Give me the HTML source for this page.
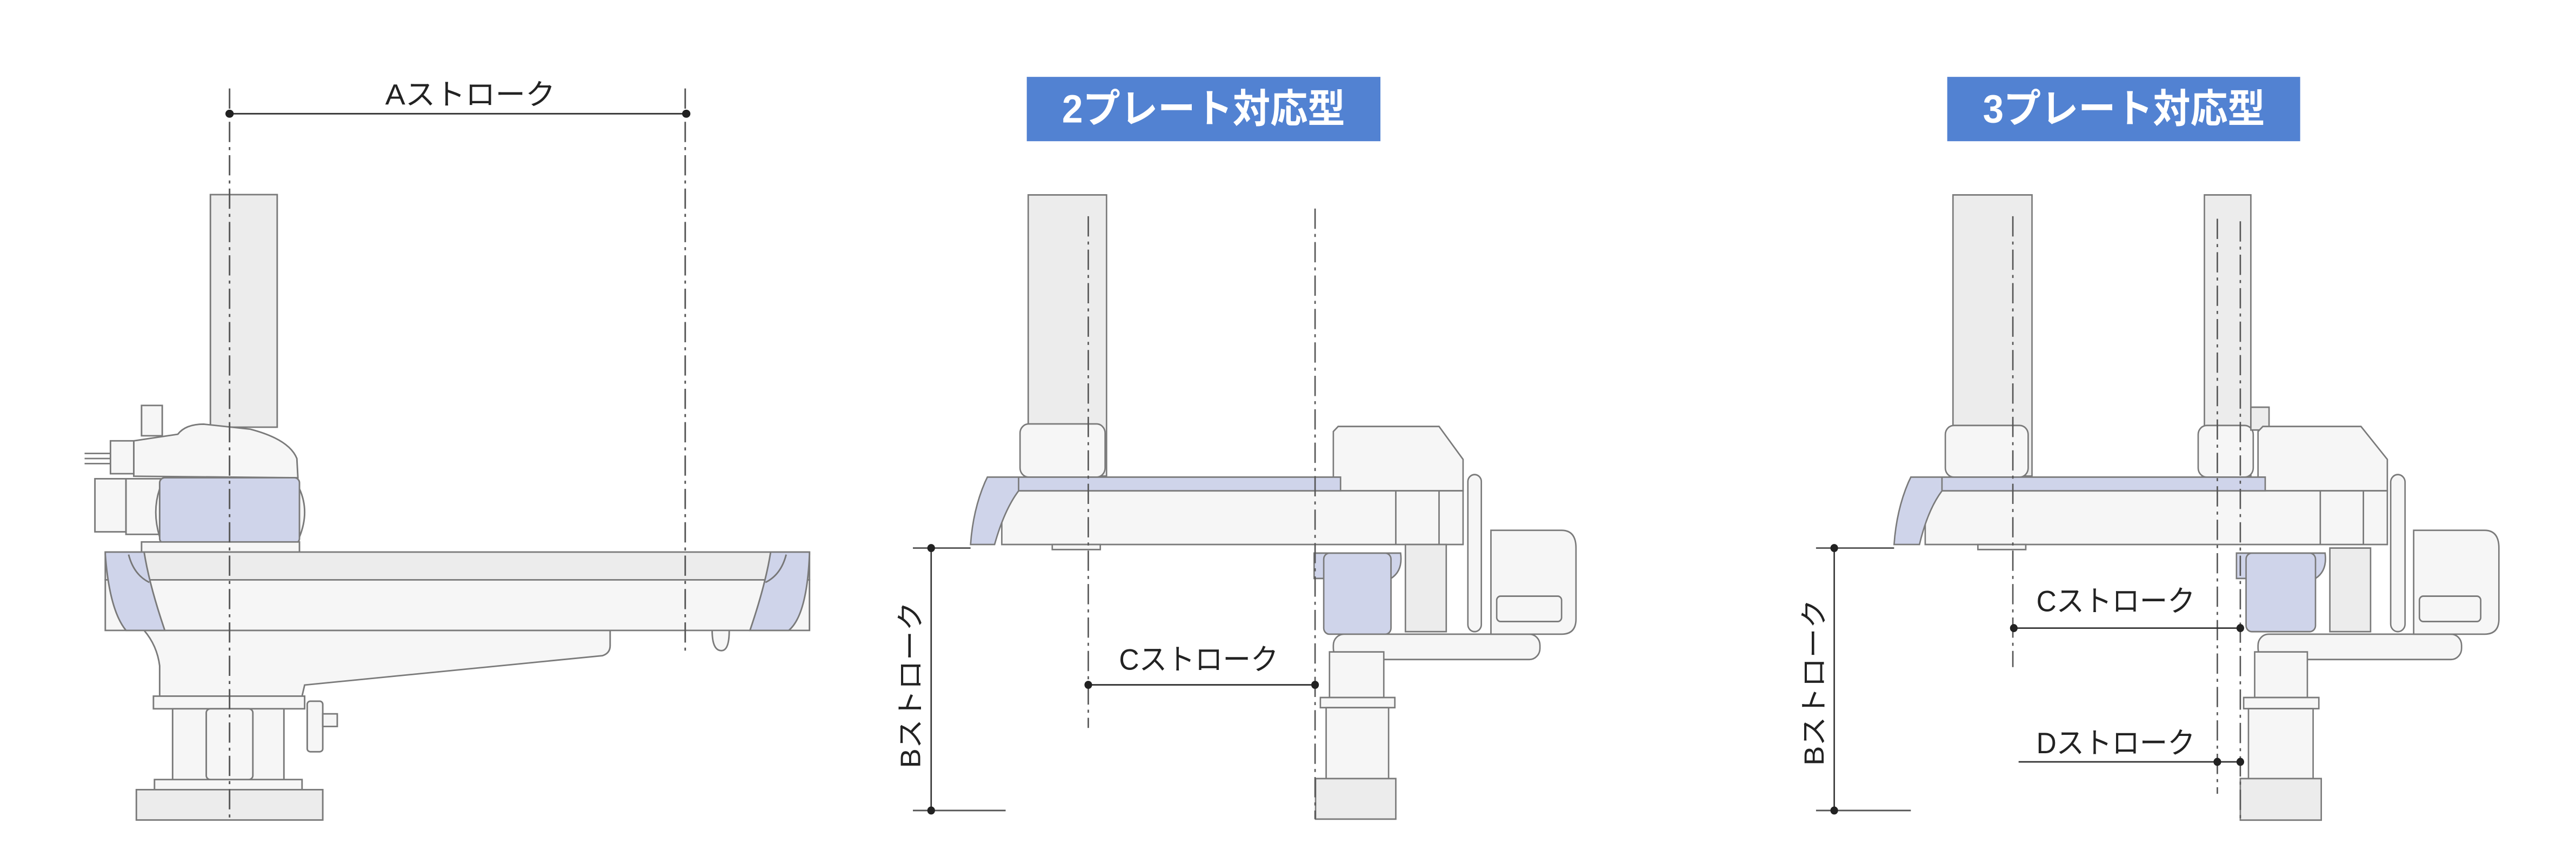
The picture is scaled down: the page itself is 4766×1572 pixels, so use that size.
<!DOCTYPE html>
<html><head><meta charset="utf-8"><style>
html,body{margin:0;padding:0;background:#fff;width:4766px;height:1572px;overflow:hidden}
svg{display:block}
text{font-family:"Liberation Sans","Noto Sans CJK JP",sans-serif}
</style></head><body>
<svg width="4766" height="1572" viewBox="0 0 4766 1572" xmlns="http://www.w3.org/2000/svg">
<defs>
<style>
.o{stroke:#7a7a7a;stroke-width:3;fill:#f6f6f6}
.g{stroke:#7a7a7a;stroke-width:3;fill:#ececec}
.b{stroke:#7a7a7a;stroke-width:3;fill:#cfd4ea}
.d{stroke:#333;stroke-width:3;fill:none}
.c{stroke:#555;stroke-width:3;fill:none;stroke-dasharray:40 10 6 10}
.t{font-size:58px;fill:#222}
.h{font-size:78px;fill:#fff;font-weight:bold}
</style>
</defs>

<!-- Panel 1 -->
<g transform="translate(99,100) scale(0.958,0.935)">
<rect class="g" x="303" y="278" width="129" height="460"/>
<rect class="o" x="170" y="695" width="40" height="60"/>
<path class="o" d="M155,835 L155,765 L240,752 Q255,732 290,732 L380,742 Q455,762 470,800 L472,838 Z"/>
<rect class="o" x="110" y="765" width="45" height="65"/>
<rect class="o" x="80" y="840" width="60" height="105"/>
<rect class="o" x="140" y="840" width="70" height="110"/>
<path class="o" d="M60,790 L110,790 M60,800 L110,800 M60,810 L110,810"/>
<path class="o" d="M205,860 Q190,905 205,955 L475,955 Q495,905 475,860 Z"/>
<rect class="b" x="205" y="838" width="270" height="130" rx="10"/>
<rect class="o" x="170" y="965" width="305" height="20"/>
<path class="o" d="M175,1140 Q200,1170 205,1210 L205,1270 L480,1270 L485,1248 L1060,1190 Q1075,1185 1075,1170 L1075,1140 Z"/>
<rect class="g" x="100" y="985" width="1360" height="55"/>
<rect class="o" x="100" y="1040" width="1360" height="100"/>
<path class="b" d="M100,985 L175,985 Q185,1050 215,1140 L140,1140 Q108,1100 100,990 Z"/>
<path class="b" d="M1460,985 L1385,985 Q1375,1050 1345,1140 L1420,1140 Q1455,1110 1460,990 Z"/>
<path class="d" style="stroke:#777" d="M145,990 Q155,1030 185,1045 M1415,990 Q1405,1030 1375,1045"/>
<path class="o" d="M1272,1140 Q1272,1180 1290,1180 Q1305,1180 1305,1140 Z"/>
<rect class="o" x="193" y="1270" width="292" height="25"/>
<rect class="o" x="230" y="1295" width="215" height="145"/>
<rect class="o" x="295" y="1295" width="90" height="140" rx="8"/>
<rect class="o" x="195" y="1435" width="285" height="20"/>
<rect class="g" x="160" y="1455" width="360" height="60"/>
<rect class="o" x="490" y="1280" width="30" height="100" rx="6"/>
<rect class="o" x="520" y="1305" width="28" height="25"/>
<line class="c" x1="340" y1="68" x2="340" y2="1515"/>
<line class="c" x1="1220" y1="68" x2="1220" y2="1185"/>
<line class="d" x1="340" y1="118" x2="1222" y2="118"/>
<circle cx="340" cy="118" r="8" fill="#222"/><circle cx="1222" cy="118" r="8" fill="#222"/>
<text class="t" x="805" y="100" text-anchor="middle">Aストローク</text>
</g>

<!-- Panel 2 -->
<g transform="translate(1649,100) scale(0.889,0.937)">
<rect x="282" y="45" width="736" height="127" fill="#5282d2"/>
<text class="h" x="650" y="135" text-anchor="middle">2プレート対応型</text>
<rect class="g" x="285" y="278" width="163" height="555"/>
<rect class="o" x="268" y="730" width="177" height="105" rx="18"/>
<path class="o" d="M930,735 L1140,735 L1190,800 L1190,862 L920,862 L920,745 Z"/>
<rect class="o" x="230" y="862" width="960" height="106"/>
<line class="d" style="stroke:#777" x1="1050" y1="862" x2="1050" y2="968"/>
<line class="d" style="stroke:#777" x1="1140" y1="862" x2="1140" y2="968"/>
<rect class="b" x="250" y="835" width="685" height="27"/>
<path class="b" d="M200,835 L265,835 L265,862 Q235,900 215,968 L165,968 Q170,900 195,845 Z"/>
<rect class="o" x="335" y="968" width="100" height="10"/>
<rect class="g" x="1070" y="968" width="85" height="172"/>
<path class="b" d="M880,985 L1060,985 Q1065,1020 1040,1035 L880,1035 Z"/>
<rect class="b" x="900" y="985" width="140" height="160" rx="12"/>
<rect class="o" x="920" y="1145" width="430" height="50" rx="22"/>
<rect class="o" x="1200" y="830" width="28" height="310" rx="14"/>
<path class="o" d="M1248,940 L1395,940 Q1425,940 1425,975 L1425,1115 Q1425,1145 1395,1145 L1248,1145 Z"/>
<rect class="o" x="1260" y="1070" width="135" height="50" rx="8"/>
<rect class="o" x="912" y="1180" width="113" height="90"/>
<rect class="o" x="893" y="1270" width="155" height="20"/>
<rect class="o" x="905" y="1290" width="130" height="140"/>
<rect class="g" x="883" y="1430" width="167" height="80"/>
<line class="c" x1="410" y1="320" x2="410" y2="1330"/>
<line class="c" x1="882" y1="305" x2="882" y2="1510"/>
<line class="d" style="stroke:#555" x1="45" y1="975" x2="165" y2="975"/>
<line class="d" style="stroke:#555" x1="45" y1="1493" x2="238" y2="1493"/>
<line class="d" x1="83" y1="975" x2="83" y2="1493"/>
<circle cx="83" cy="975" r="8" fill="#222"/><circle cx="83" cy="1493" r="8" fill="#222"/>
<text class="t" x="0" y="0" text-anchor="middle" transform="translate(60,1245) rotate(-90)">Bストローク</text>
<line class="d" x1="410" y1="1245" x2="882" y2="1245"/>
<circle cx="410" cy="1245" r="8" fill="#222"/><circle cx="882" cy="1245" r="8" fill="#222"/>
<text class="t" x="640" y="1215" text-anchor="middle">Cストローク</text>
</g>

<!-- Panel 3 -->
<g transform="translate(3305,100) scale(0.886,0.937)">
<rect x="336" y="45" width="737" height="127" fill="#5282d2"/>
<text class="h" x="705" y="135" text-anchor="middle">3プレート対応型</text>
<rect class="g" x="348" y="278" width="165" height="555"/>
<rect class="o" x="332" y="733" width="173" height="102" rx="18"/>
<rect class="g" x="873" y="278" width="97" height="555"/>
<rect class="o" x="860" y="733" width="115" height="102" rx="18"/>
<rect class="g" x="970" y="697" width="38" height="45"/>
<path class="o" d="M995,735 L1200,735 L1255,800 L1255,862 L985,862 L985,745 Z"/>
<rect class="o" x="290" y="862" width="965" height="106"/>
<line class="d" style="stroke:#777" x1="1115" y1="862" x2="1115" y2="968"/>
<line class="d" style="stroke:#777" x1="1205" y1="862" x2="1205" y2="968"/>
<rect class="b" x="315" y="835" width="685" height="27"/>
<path class="b" d="M260,835 L325,835 L325,862 Q295,900 278,968 L225,968 Q230,900 255,845 Z"/>
<rect class="o" x="400" y="968" width="100" height="10"/>
<rect class="g" x="1135" y="975" width="85" height="165"/>
<path class="b" d="M940,985 L1125,985 Q1130,1020 1105,1035 L940,1035 Z"/>
<rect class="b" x="960" y="985" width="145" height="155" rx="12"/>
<rect class="o" x="985" y="1145" width="425" height="50" rx="22"/>
<rect class="o" x="1262" y="830" width="30" height="310" rx="15"/>
<path class="o" d="M1310,940 L1458,940 Q1488,940 1488,975 L1488,1115 Q1488,1145 1458,1145 L1310,1145 Z"/>
<rect class="o" x="1322" y="1070" width="128" height="50" rx="8"/>
<rect class="o" x="978" y="1180" width="110" height="90"/>
<rect class="o" x="955" y="1270" width="157" height="22"/>
<rect class="o" x="965" y="1292" width="135" height="138"/>
<rect class="g" x="948" y="1430" width="169" height="82"/>
<line class="c" x1="473" y1="320" x2="473" y2="1210"/>
<line class="c" x1="900" y1="325" x2="900" y2="1460"/>
<line class="c" x1="948" y1="330" x2="948" y2="1510"/>
<line class="d" style="stroke:#555" x1="62" y1="975" x2="225" y2="975"/>
<line class="d" style="stroke:#555" x1="62" y1="1493" x2="260" y2="1493"/>
<line class="d" x1="100" y1="975" x2="100" y2="1493"/>
<circle cx="100" cy="975" r="8" fill="#222"/><circle cx="100" cy="1493" r="8" fill="#222"/>
<text class="t" x="0" y="0" text-anchor="middle" transform="translate(78,1240) rotate(-90)">Bストローク</text>
<line class="d" x1="475" y1="1133" x2="948" y2="1133"/>
<circle cx="475" cy="1133" r="8" fill="#222"/><circle cx="948" cy="1133" r="8" fill="#222"/>
<text class="t" x="688" y="1100" text-anchor="middle">Cストローク</text>
<line class="d" x1="485" y1="1397" x2="948" y2="1397"/>
<circle cx="900" cy="1397" r="8" fill="#222"/><circle cx="948" cy="1397" r="8" fill="#222"/>
<text class="t" x="688" y="1380" text-anchor="middle">Dストローク</text>
</g>
</svg>
</body></html>
